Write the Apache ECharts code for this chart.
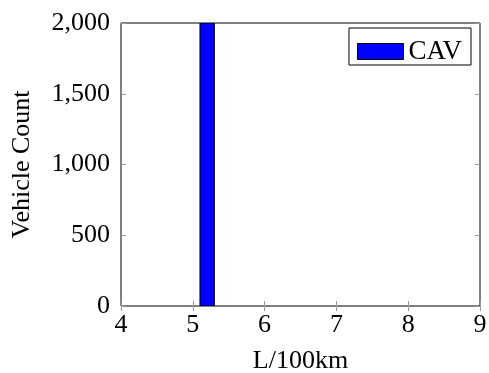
<!DOCTYPE html>
<html>
<head>
<meta charset="utf-8">
<script src="https://cdn.jsdelivr.net/npm/echarts@6/dist/echarts.min.js"></script>
<style>
  html, body { margin: 0; padding: 0; background: #fff; }
  #chart { width: 489px; height: 373px; }
</style>
</head>
<body>
<div id="chart"></div>
<script>
// Histogram bins: [left edge, right edge] in L/100km and vehicle counts per bin
const binEdges = [[5.1, 5.3]];
const binCounts = [2400];
const seriesName = 'CAV';

const xTicks = [4, 5, 6, 7, 8, 9];
const yTicks = [0, 500, 1000, 1500, 2000];

const bins = binEdges.map((e, i) => [e[0], e[1], binCounts[i]]);

const FONT = '"Liberation Serif", "Times New Roman", serif';
const tickStyle = { show: true, inside: true, length: 5, lineStyle: { color: '#9a9a9a', width: 1 } };

const chart = echarts.init(document.getElementById('chart'));
chart.setOption({
  animation: false,
  backgroundColor: '#fff',
  grid: {
    left: 121, right: 9, top: 23, bottom: 67,
    outerBoundsMode: 'none', containLabel: false,
    show: true, borderColor: '#000', borderWidth: 1, backgroundColor: 'transparent'
  },
  legend: {
    data: [{ name: seriesName, icon: 'rect' }],
    right: 18, top: 28,
    orient: 'vertical',
    itemWidth: 46, itemHeight: 16, itemGap: 0,
    padding: [10, 9, 0, 8],
    borderColor: '#000', borderWidth: 1, borderRadius: 0,
    backgroundColor: '#fff',
    textStyle: { fontFamily: FONT, fontSize: 27, lineHeight: 18, color: '#000' },
    itemStyle: { color: '#0000ff', borderColor: '#000', borderWidth: 1 }
  },
  xAxis: [{
    type: 'value',
    min: xTicks[0], max: xTicks[xTicks.length - 1], interval: 1,
    name: 'L/100km', nameLocation: 'middle', nameGap: 42,
    nameTextStyle: { fontFamily: FONT, fontSize: 26, color: '#000' },
    axisLine: { show: false },
    axisTick: tickStyle,
    splitLine: { show: false },
    axisLabel: { fontFamily: FONT, fontSize: 26, color: '#000', margin: 6 }
  }, {
    type: 'value', position: 'top',
    min: xTicks[0], max: xTicks[xTicks.length - 1], interval: 1,
    axisLine: { show: false }, axisTick: tickStyle,
    splitLine: { show: false }, axisLabel: { show: false }
  }],
  yAxis: [{
    type: 'value',
    min: yTicks[0], max: yTicks[yTicks.length - 1], interval: 500,
    name: 'Vehicle Count', nameLocation: 'middle', nameGap: 86,
    nameTextStyle: { fontFamily: FONT, fontSize: 26, color: '#000' },
    axisLine: { show: false },
    axisTick: tickStyle,
    splitLine: { show: false },
    axisLabel: {
      fontFamily: FONT, fontSize: 26, color: '#000', margin: 11,
      formatter: v => v.toLocaleString('en-US')
    }
  }, {
    type: 'value', position: 'right',
    min: yTicks[0], max: yTicks[yTicks.length - 1], interval: 500,
    axisLine: { show: false }, axisTick: tickStyle,
    splitLine: { show: false }, axisLabel: { show: false }
  }],
  series: [{
    name: seriesName,
    type: 'custom',
    xAxisIndex: 0, yAxisIndex: 0,
    clip: true,
    itemStyle: { color: '#0000ff', borderColor: '#000', borderWidth: 1 },
    renderItem: function (params, api) {
      const p0 = api.coord([api.value(0), api.value(2)]);
      const p1 = api.coord([api.value(1), 0]);
      const rect = echarts.graphic.clipRectByRect(
        { x: p0[0], y: p0[1], width: p1[0] - p0[0], height: p1[1] - p0[1] },
        { x: params.coordSys.x, y: params.coordSys.y, width: params.coordSys.width, height: params.coordSys.height }
      );
      return rect && {
        type: 'rect',
        shape: rect,
        style: { fill: '#0000ff', stroke: '#000', lineWidth: 1 }
      };
    },
    encode: { x: [0, 1], y: 2 },
    data: bins
  }]
});
</script>
</body>
</html>
